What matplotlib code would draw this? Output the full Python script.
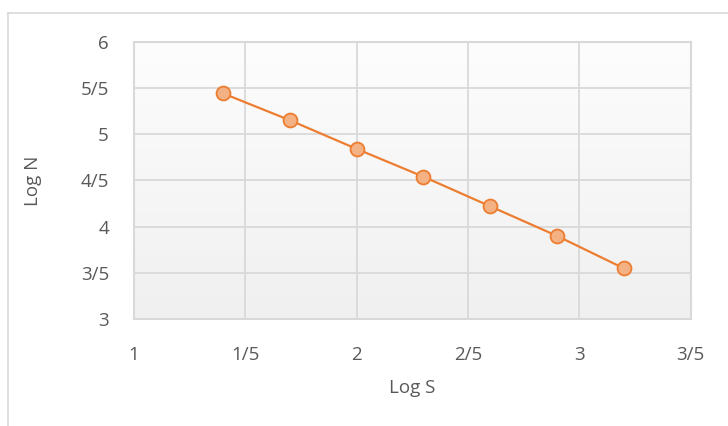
import numpy as np
import matplotlib
matplotlib.use("Agg")
import matplotlib.pyplot as plt
from matplotlib.lines import Line2D
from matplotlib.colors import LinearSegmentedColormap

log_s = [1.4, 1.7, 2.0, 2.3, 2.6, 2.9, 3.2]
log_n = [5.44, 5.15, 4.84, 4.54, 4.22, 3.90, 3.55]
x_ticks = [1, 1.5, 2, 2.5, 3, 3.5]
x_tick_labels = ["1", "1/5", "2", "2/5", "3", "3/5"]
y_ticks = [3, 3.5, 4, 4.5, 5, 5.5, 6]
y_tick_labels = ["3", "3/5", "4", "4/5", "5", "5/5", "6"]

plt.rcParams['font.family'] = ['Open Sans', 'DejaVu Sans']
text_color = "#595959"
grid_color = "#d9d9d9"

fig = plt.figure(figsize=(7.28, 4.26), dpi=100)
ax = fig.add_axes([0.184, 0.2505, 0.7648, 0.652])

# gradient background (light at top, slightly grey at bottom)
grad = np.linspace(1, 0, 256).reshape(-1, 1)
cmap = LinearSegmentedColormap.from_list("bg", ["#fdfdfd", "#f0f0f0"])
ax.imshow(grad, aspect="auto", cmap=cmap, extent=[1, 3.5, 3, 6],
          zorder=0, origin="lower", vmin=0, vmax=1)

ax.set_xlim(1, 3.5)
ax.set_ylim(3, 6)
ax.set_xticks(x_ticks)
ax.set_xticklabels(x_tick_labels)
ax.set_yticks(y_ticks)
ax.set_yticklabels(y_tick_labels)
ax.grid(True, color=grid_color, linewidth=1.3, zorder=1)
ax.set_axisbelow(True)
ax.tick_params(length=0, colors=text_color, labelsize=13.5)
ax.tick_params(axis="x", pad=19)
ax.tick_params(axis="y", pad=18)
for sp in ax.spines.values():
    sp.set_color(grid_color)
    sp.set_linewidth(1.5)

ax.plot(log_s, log_n, color="#ed7d31", linewidth=1.6, marker="o",
        markersize=10, markerfacecolor="#f4b183", markeredgecolor="#ed7d31",
        markeredgewidth=1.3, zorder=3)

ax.set_xlabel("Log S", color=text_color, fontsize=13.5, labelpad=11)
ax.set_ylabel("Log N", color=text_color, fontsize=13.5, labelpad=28)

# outer chart border (top and left)
fig.add_artist(Line2D([8/728, 1], [1-13/426, 1-13/426], color="#d9d9d9",
                      linewidth=1.2, transform=fig.transFigure))
fig.add_artist(Line2D([8/728, 8/728], [0, 1-13/426], color="#d9d9d9",
                      linewidth=1.2, transform=fig.transFigure))

fig.savefig("out.png", dpi=100)
